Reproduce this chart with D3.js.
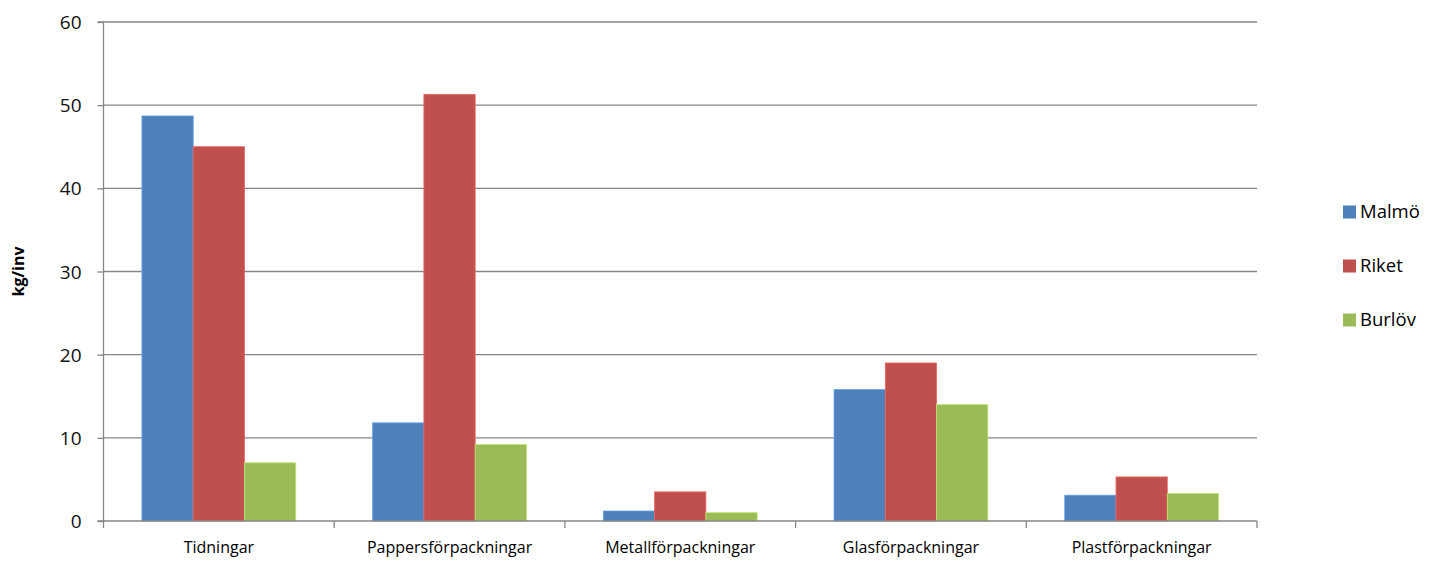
<!DOCTYPE html>
<html><head><meta charset="utf-8">
<script src="https://cdn.jsdelivr.net/npm/d3@7"></script>
<style>body{margin:0;background:#fff;} svg{display:block;} text{font-family:"Open Sans",sans-serif;fill:#000;}</style>
</head><body><svg id="c" width="1443" height="566"></svg>
<script>
const categories = ["Tidningar","Pappersförpackningar","Metallförpackningar","Glasförpackningar","Plastförpackningar"];
const seriesNames = ["Malmö","Riket","Burlöv"];
const malmo = [48.7, 11.8, 1.2, 15.8, 3.1];
const riket = [45.0, 51.3, 3.5, 19.0, 5.3];
const burlov = [7.0, 9.2, 1.0, 14.0, 3.3];
const yTicks = [0,10,20,30,40,50,60];
const colors = ["#4F81BD","#C0504D","#9BBB59"];
const values = [malmo, riket, burlov];

const svg = d3.select("#c");
const L = 103.5, R = 1257, T = 22, B = 521;
const x = d3.scaleBand().domain(categories).range([L, R]).paddingInner(0).paddingOuter(0);
const bw = x.bandwidth();
const xs = d3.scaleBand().domain(seriesNames).range([0, bw]).paddingInner(0).paddingOuter(0.75);
const y = d3.scaleLinear().domain([0,60]).range([B, T]);

// gridlines
svg.append("g").selectAll("line").data(yTicks.filter(d=>d>0)).join("line")
  .attr("x1", L).attr("x2", R).attr("y1", d=>y(d)).attr("y2", d=>y(d))
  .attr("stroke", "#868686").attr("stroke-width", 1.3);

// bars
categories.forEach((c, ci) => {
  seriesNames.forEach((s, si) => {
    const v = values[si][ci];
    svg.append("rect").attr("x", x(c) + xs(s)).attr("width", xs.bandwidth())
      .attr("y", y(v)).attr("height", y(0) - y(v)).attr("fill", colors[si])
      .attr("stroke", d3.color(colors[si]).brighter(0.6)).attr("stroke-width", 0.8);
  });
});

// y axis
const yAxis = d3.axisLeft(y).tickValues(yTicks).tickSize(6).tickPadding(16);
const gy = svg.append("g").attr("transform", `translate(${L},0)`).call(yAxis);
gy.select(".domain").attr("stroke", "#868686").attr("stroke-width", 1.3).attr("d", `M-6,${T}H0V${B}H-6`);
gy.selectAll(".tick line").attr("stroke", "#868686").attr("stroke-width", 1.3);
gy.selectAll(".tick text").style("font-size", "19px").style("fill", "#111").attr("dy", "0.35em");

// x axis
const xAxis = d3.axisBottom(x).tickSize(0).tickPadding(21);
const gx = svg.append("g").attr("transform", `translate(0,${B})`).call(xAxis);
gx.select(".domain").attr("stroke", "#868686").attr("stroke-width", 1.3).attr("d", `M${L},0H${R}`);
gx.selectAll(".tick text").style("font-size", "16px").style("fill", "#000");
const bounds = categories.map(c => x(c)).concat([R]);
gx.selectAll(".sep").data(bounds).join("line").attr("class","sep")
  .attr("x1", d=>d).attr("x2", d=>d).attr("y1", 0).attr("y2", 7)
  .attr("stroke", "#868686").attr("stroke-width", 1.3);

// y title
svg.append("text").attr("transform", `translate(24,${(T+B)/2}) rotate(-90)`)
  .attr("text-anchor","middle").style("font-size","16px").style("font-weight","bold").text("kg/inv");

// legend
const lg = svg.append("g");
seriesNames.forEach((s, i) => {
  const cy = 212 + i*54;
  lg.append("rect").attr("x", 1343).attr("y", cy-6.5).attr("width", 13).attr("height", 13).attr("fill", colors[i]);
  lg.append("text").attr("x", 1360).attr("y", cy).attr("dy","0.35em").style("font-size","18.5px").text(s);
});
</script></body></html>
